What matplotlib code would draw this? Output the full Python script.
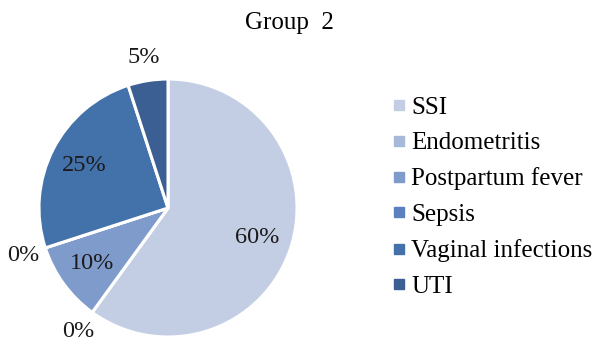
import numpy as np
import matplotlib.pyplot as plt
from matplotlib.lines import Line2D

categories = ['SSI', 'Endometritis', 'Postpartum fever', 'Sepsis',
              'Vaginal infections', 'UTI']
values = [60, 0, 10, 0, 25, 5]
labels = ['60%', '0%', '10%', '0%', '25%', '5%']
colors = ['#C3CEE4', '#A7B8DA', '#7F9BCC', '#5B80BF', '#4371A9', '#3B5F93']

plt.rcParams['font.family'] = ['Liberation Serif', 'DejaVu Serif']

fig = plt.figure(figsize=(6, 3.43), dpi=100)
ax = fig.add_axes([0, 0, 1, 1])

wedges, _ = ax.pie(values, colors=colors, startangle=90, counterclock=False,
                   radius=1, wedgeprops=dict(edgecolor='white', linewidth=2.2))

# labels: inside for big slices, outside for small ones
total = sum(values)
angle = 90.0
for v, lab in zip(values, labels):
    span = 360.0 * v / total
    mid = np.deg2rad(angle - span / 2)
    angle -= span
    r = 0.73 if v >= 10 else 1.18
    ax.text(r * np.cos(mid), r * np.sin(mid), lab, ha='center', va='center',
            fontsize=17.5, color='#1a1a1a')

# pie centre at (168, 208) px, radius 129 px
ax.set_xlim((0 - 168) / 129, (600 - 168) / 129)
ax.set_ylim((208 - 343) / 129, (208 - 0) / 129)
ax.set_aspect('auto')
ax.axis('off')

fig.text(289 / 600, 1 - 23 / 343, 'Group  2', ha='center', va='center',
         fontsize=18)

handles = [Line2D([], [], marker='s', linestyle='none', markersize=7,
                  markerfacecolor=c, markeredgecolor=c) for c in colors]
fig.legend(handles, categories, loc='upper left',
           bbox_to_anchor=(381 / 600, 1 - 86 / 343), frameon=False,
           fontsize=18, handlelength=0.6, handletextpad=0.2,
           labelspacing=0.53, borderaxespad=0)

fig.savefig('out.png', dpi=100)
